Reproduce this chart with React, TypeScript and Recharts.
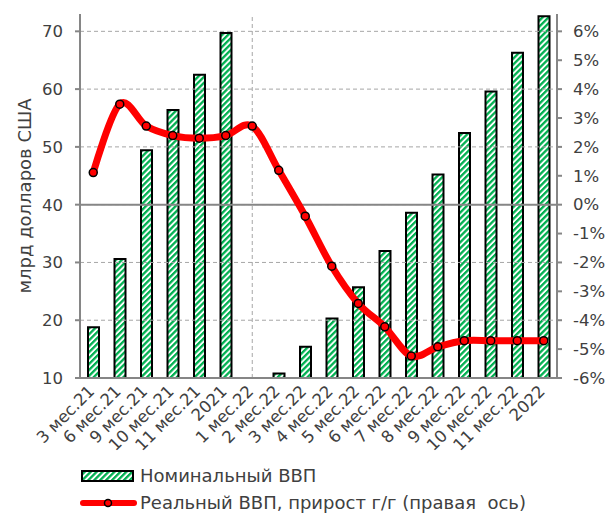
import { ComposedChart, Bar, Line, XAxis, YAxis, ReferenceLine } from 'recharts';

// categories (x axis)
const periods = [
  '3 мес.21', '6 мес.21', '9 мес.21', '10 мес.21', '11 мес.21', '2021',
  '1 мес.22', '2 мес.22', '3 мес.22', '4 мес.22', '5 мес.22', '6 мес.22',
  '7 мес.22', '8 мес.22', '9 мес.22', '10 мес.22', '11 мес.22', '2022',
];

// nominal GDP, bn USD (left axis); 1 мес.22 falls below the axis minimum
const nominalGdp = [
  18.8, 30.6, 49.4, 56.4, 62.5, 69.7,
  null, 10.8, 15.4, 20.3, 25.7, 32.0,
  38.6, 45.2, 52.4, 59.6, 66.3, 72.6,
];

// real GDP, growth y/y, % (right axis)
const realGrowth = [
  1.11, 3.48, 2.72, 2.39, 2.30, 2.39,
  2.72, 1.19, -0.40, -2.13, -3.42, -4.23,
  -5.24, -4.92, -4.71, -4.71, -4.71, -4.71,
];

const leftTicks = [10, 20, 30, 40, 50, 60, 70];
const rightTicks = [-6, -5, -4, -3, -2, -1, 0, 1, 2, 3, 4, 5, 6];
// category boundaries, for Excel-style tick marks between categories
const boundaries = [...periods.map((_, i) => i), periods.length];

const chartData = periods.map((p, i) => ({
  period: p,
  nominal: nominalGdp[i],
  real: realGrowth[i],
}));

const GREEN = '#00b050';
const AXIS = '#868686';
const GRID = '#a6a6a6';
const TEXT = '#404040';
const FONT = '"DejaVu Sans", Verdana, sans-serif';

const css = `
.gdp .recharts-cartesian-axis-tick-value { fill: ${TEXT}; font-family: ${FONT}; font-size: 16.5px; }
.gdp .recharts-xAxis .recharts-cartesian-axis-tick-value { font-size: 15.5px; }
.gdp .recharts-label { font-family: ${FONT}; }
`;

// Excel-like smoothing (Catmull-Rom / cardinal with tension 0)
function smoothCurve(context: any) {
  const k = 1 / 6;
  let x0 = NaN, x1 = NaN, x2 = NaN, y0 = NaN, y1 = NaN, y2 = NaN;
  let n = 0;
  const seg = (x: number, y: number) => {
    context.bezierCurveTo(
      x1 + k * (x2 - x0), y1 + k * (y2 - y0),
      x2 + k * (x1 - x), y2 + k * (y1 - y),
      x2, y2
    );
  };
  return {
    areaStart() {},
    areaEnd() {},
    lineStart() { x0 = x1 = x2 = y0 = y1 = y2 = NaN; n = 0; },
    lineEnd() {
      if (n === 2) context.lineTo(x2, y2);
      else if (n === 3) seg(x1, y1);
    },
    point(x: number, y: number) {
      x = +x; y = +y;
      if (n === 0) { n = 1; context.moveTo(x, y); }
      else if (n === 1) { n = 2; x1 = x; y1 = y; }
      else { n = 3; seg(x, y); }
      x0 = x1; x1 = x2; x2 = x;
      y0 = y1; y1 = y2; y2 = y;
    },
  };
}

// right axis label: value with a percent sign
const PercentTick = (props: any) => {
  const { x, y, payload } = props;
  return (
    <text x={x} y={y} dy="0.35em" textAnchor="start" className="recharts-cartesian-axis-tick-value">
      {`${payload.value}%`}
    </text>
  );
};

const LegendBox = () => (
  <div
    style={{
      position: 'absolute', left: 0, top: 450, width: 606,
      fontFamily: FONT, fontSize: 18, color: TEXT, paddingLeft: 80, paddingTop: 12, boxSizing: 'border-box',
    }}
  >
    <div style={{ display: 'flex', alignItems: 'center', height: 27 }}>
      <svg width={57} height={14}>
        <rect x={2} y={2} width={51} height={10} fill="url(#stripes)" stroke="#000" strokeWidth={2} />
      </svg>
      <span style={{ marginLeft: 3 }}>Номинальный ВВП</span>
    </div>
    <div style={{ display: 'flex', alignItems: 'center', height: 27 }}>
      <svg width={57} height={14}>
        <line x1={3} y1={7} x2={54} y2={7} stroke="#ff0000" strokeWidth={6} strokeLinecap="round" />
        <circle cx={28} cy={7} r={3.5} fill="#ff0000" stroke="#000" strokeWidth={1.5} />
      </svg>
      <span style={{ marginLeft: 3 }}>Реальный ВВП, прирост г/г (правая&nbsp; ось)</span>
    </div>
  </div>
);

export default function App() {
  return (
    <div className="gdp" style={{ position: 'absolute', left: 0, top: 0, width: 606, height: 513, background: '#fff' }}>
      <style>{css}</style>
      <ComposedChart
        width={606}
        height={513}
        data={chartData}
        margin={{ top: 14, right: 0, bottom: 63, left: 0 }}
        barCategoryGap={0}
      >
        <defs>
          <pattern id="stripes" patternUnits="userSpaceOnUse" width={4.2} height={4.2} patternTransform="rotate(45)">
            <rect x={0} y={0} width={4.2} height={4.2} fill="#fff" />
            <rect x={0} y={0} width={2.3} height={4.2} fill={GREEN} />
          </pattern>
        </defs>
        {leftTicks.slice(1).map((t) => (
          <ReferenceLine key={t} yAxisId="left" y={t} stroke={GRID} strokeDasharray="4 3" />
        ))}
        <XAxis
          xAxisId="bounds"
          type="number"
          domain={[0, periods.length]}
          ticks={boundaries}
          height={0}
          tick={false}
          axisLine={false}
          tickLine={{ stroke: AXIS, strokeWidth: 2 }}
          tickSize={5}
        />
        <XAxis
          dataKey="period"
          interval={0}
          height={72}
          tick={{ angle: -45, textAnchor: 'end', dx: -6, dy: -1 }}
          tickLine={false}
          axisLine={{ stroke: AXIS, strokeWidth: 2 }}
          tickSize={5}
        />
        <YAxis
          yAxisId="left"
          width={80}
          domain={[10, 73]}
          ticks={leftTicks}
          allowDataOverflow
          tickLine={{ stroke: AXIS, strokeWidth: 2 }}
          axisLine={{ stroke: AXIS, strokeWidth: 2 }}
          tickSize={5}
          tickMargin={12}
          label={{
            value: 'млрд долларов США',
            angle: -90,
            position: 'insideLeft',
            offset: 25,
            style: { textAnchor: 'middle', fill: TEXT, fontSize: 18 },
          }}
        />
        <YAxis
          yAxisId="right"
          orientation="right"
          width={49}
          domain={[-6, 6.6]}
          ticks={rightTicks}
          allowDataOverflow
          tick={<PercentTick />}
          tickLine={{ stroke: AXIS, strokeWidth: 2 }}
          axisLine={{ stroke: AXIS, strokeWidth: 2 }}
          tickSize={5}
          tickMargin={11}
        />
        <ReferenceLine yAxisId="right" y={0} stroke={AXIS} strokeWidth={2} />
        <ReferenceLine yAxisId="left" x="1 мес.22" stroke={GRID} strokeDasharray="4 3" />
        <Bar
          yAxisId="left"
          dataKey="nominal"
          name="Номинальный ВВП"
          barSize={11}
          fill="url(#stripes)"
          stroke="#000"
          strokeWidth={2}
          isAnimationActive={false}
        />
        <Line
          yAxisId="right"
          dataKey="real"
          name="Реальный ВВП, прирост г/г (правая ось)"
          type={smoothCurve as any}
          stroke="#ff0000"
          strokeWidth={7}
          dot={{ r: 4, fill: '#ff0000', stroke: '#000', strokeWidth: 1.5 }}
          activeDot={false}
          isAnimationActive={false}
        />
      </ComposedChart>
      <LegendBox />
    </div>
  );
}
